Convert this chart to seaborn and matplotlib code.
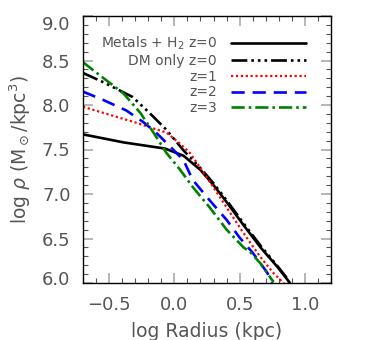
import matplotlib
matplotlib.use("Agg")
import matplotlib.pyplot as plt
import matplotlib.transforms as mtransforms
import seaborn as sns
import pandas as pd
from matplotlib.ticker import MultipleLocator

sns.set_theme(style="ticks")
plt.rcParams['font.family'] = ['DejaVu Sans']

# Data (log radius [kpc], log density [Msun/kpc^3])
metals_x = [-0.70, -0.39, -0.07, 0.07, 0.20, 0.30, 0.40, 0.53, 0.66, 0.79, 0.87, 0.89]
metals_y = [7.67, 7.58, 7.51, 7.43, 7.27, 7.10, 6.91, 6.65, 6.40, 6.18, 6.03, 5.98]

dm_x = [-0.70, -0.55, -0.32, -0.19, -0.06, 0.07, 0.20, 0.30, 0.40, 0.53, 0.66, 0.79, 0.87, 0.89]
dm_y = [8.36, 8.26, 8.09, 7.91, 7.72, 7.49, 7.29, 7.12, 6.93, 6.67, 6.42, 6.19, 6.04, 5.98]

z1_x = [-0.70, -0.45, -0.29, -0.19, -0.06, 0.04, 0.12, 0.22, 0.40, 0.53, 0.66, 0.76, 0.83, 0.86]
z1_y = [7.98, 7.87, 7.80, 7.75, 7.69, 7.57, 7.46, 7.25, 6.85, 6.56, 6.29, 6.11, 6.01, 5.96]

z2_x = [-0.70, -0.55, -0.37, -0.24, -0.14, -0.03, 0.07, 0.14, 0.27, 0.40, 0.50, 0.60, 0.71, 0.75]
z2_y = [8.15, 8.06, 7.94, 7.81, 7.69, 7.53, 7.38, 7.16, 6.93, 6.71, 6.51, 6.34, 6.12, 6.00]

z3_x = [-0.70, -0.55, -0.39, -0.26, -0.16, -0.06, 0.04, 0.14, 0.27, 0.40, 0.53, 0.58, 0.66, 0.76]
z3_y = [8.48, 8.31, 8.13, 7.91, 7.69, 7.46, 7.28, 7.08, 6.85, 6.60, 6.40, 6.35, 6.22, 6.01]

labels = [r"Metals + H$_2$ z=0", "DM only z=0", "z=1", "z=2", "z=3"]

series = [
    (metals_x, metals_y, "black", "-", 1.9),
    (dm_x, dm_y, "black", (0, (6, 1.5, 1, 1.5, 1, 1.5, 1, 1.5)), 1.9),
    (z1_x, z1_y, "red", (0, (1, 1.2)), 1.6),
    (z2_x, z2_y, "blue", (0, (5, 3)), 1.9),
    (z3_x, z3_y, "green", (0, (5, 1.5, 1, 1.5)), 1.9),
]

fig = plt.figure(figsize=(3.65, 3.4), dpi=100)
ax = fig.add_axes([83/365, 1 - 283/340, (331-83)/365, (283-16)/340])

handles = []
for (xs, ys, c, ls, lw), lab in zip(series, labels):
    df = pd.DataFrame({"x": xs, "y": ys})
    sns.lineplot(data=df, x="x", y="y", ax=ax, color=c, linestyle=ls,
                 linewidth=lw, sort=False, estimator=None)
    handles.append(ax.lines[-1])

ax.set_xlim(-0.70, 1.20)
ax.set_ylim(6.0, 9.0)
ax.xaxis.set_major_locator(MultipleLocator(0.5))
ax.xaxis.set_minor_locator(MultipleLocator(0.1))
ax.yaxis.set_major_locator(MultipleLocator(0.5))
ax.yaxis.set_minor_locator(MultipleLocator(0.1))
ax.tick_params(which="both", direction="in", top=True, right=True,
               colors="#aaaaaa", labelcolor="#555555")
ax.tick_params(which="major", length=7, width=1.2, labelsize=13, pad=9)
ax.tick_params(which="minor", length=3.5, width=0.8, colors="#555555")
for s in ax.spines.values():
    s.set_color("black")
    s.set_linewidth(1)

ax.set_xlabel("log Radius (kpc)", fontsize=13.5, color="#555555", labelpad=6)
ax.set_ylabel(r"log $\rho$ (M$_\odot$/kpc$^3$)", fontsize=13.5, color="#555555", labelpad=6)

# nudge the extreme y tick labels inward like the original
fig.canvas.draw()
for tick in ax.yaxis.get_major_ticks():
    v = tick.get_loc()
    if abs(v - 9.0) < 1e-6:
        off = mtransforms.ScaledTranslation(0, -7/100, fig.dpi_scale_trans)
        tick.label1.set_transform(tick.label1.get_transform() + off)
    elif abs(v - 6.0) < 1e-6:
        off = mtransforms.ScaledTranslation(0, 5/100, fig.dpi_scale_trans)
        tick.label1.set_transform(tick.label1.get_transform() + off)

leg = ax.legend(handles, labels, loc="upper right", frameon=False,
                fontsize=10, markerfirst=False, handlelength=5.4,
                labelspacing=0.12, handletextpad=1.0, borderpad=0,
                borderaxespad=0,
                bbox_to_anchor=((306 - 83) / 248, 1 - (35 - 16) / 267))
for t in leg.get_texts():
    t.set_color("#555555")
    t.set_ha("right")

fig.savefig("out.png", dpi=100)
